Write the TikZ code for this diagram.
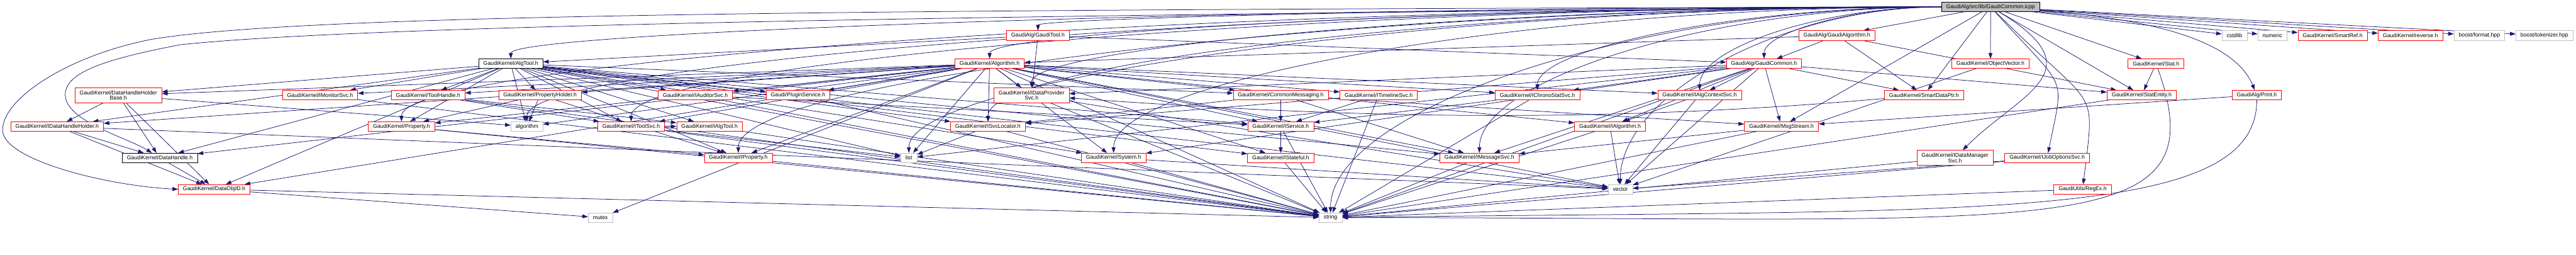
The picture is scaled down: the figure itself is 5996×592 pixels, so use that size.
\documentclass[tikz,border=0pt]{standalone}
\usepackage{fontspec}
\usepackage{tikz}
\usetikzlibrary{arrows.meta,calc}
\newfontfamily\dotfont{Liberation Sans}
\definecolor{DotEdge}{HTML}{191970}
\definecolor{DotRed}{HTML}{FF0000}
\definecolor{DotGray}{HTML}{BFBFBF}
\pgfdeclarelayer{edges}
\pgfsetlayers{edges,main}

\begin{document}
\begin{tikzpicture}[x=1pt, y=1pt,
  font=\dotfont\fontsize{12.8}{12.7}\selectfont,
  box/.style={draw, fill=white, line width=1pt, inner xsep=11pt, inner ysep=0pt, minimum height=22pt, align=center},
  redbox/.style={box, draw=DotRed},
  blackbox/.style={box, draw=black},
  sysbox/.style={box, draw=DotGray},
  rootbox/.style={box, draw=black, fill=DotGray},
  tall/.style={minimum height=35pt},
  dep/.style={draw=DotEdge, line width=1.1pt, -{Triangle[length=13pt,width=9pt]}}]
  \useasboundingbox (0,0) rectangle (5996,592);
  % the file itself
  \node[rootbox] (root) at (4633.5,576) {GaudiAlg/src/lib/GaudiCommon.icpp};
  % first row
  \node[redbox] (gtool) at (2416,509.5) {GaudiAlg/GaudiTool.h};
  \node[redbox] (galg) at (4275.5,509.5) {GaudiAlg/GaudiAlgorithm.h};
  \node[sysbox] (scstdlib) at (5201,509.5) {cstdlib};
  \node[sysbox] (snumeric) at (5289,509.5) {numeric};
  \node[redbox] (smartref) at (5429.5,509.5) {GaudiKernel/SmartRef.h};
  \node[redbox] (reverse) at (5610.5,509.5) {GaudiKernel/reverse.h};
  \node[sysbox] (bformat) at (5771,509.5) {boost/format.hpp};
  \node[sysbox] (btoken) at (5922.5,509.5) {boost/tokenizer.hpp};
  % second row
  \node[blackbox] (algtool) at (1189,444) {GaudiKernel/AlgTool.h};
  \node[redbox] (algorithmh) at (2303.5,444) {GaudiKernel/Algorithm.h};
  \node[redbox] (gcommon) at (4106,444) {GaudiAlg/GaudiCommon.h};
  \node[redbox] (objvec) at (4633,444) {GaudiKernel/ObjectVector.h};
  \node[redbox] (stat) at (5018.5,444) {GaudiKernel/Stat.h};
  % third row
  \node[redbox, tall] (dhhb) at (275.5,370.5) {GaudiKernel/DataHandleHolder\\Base.h};
  \node[redbox] (imonitor) at (745,371) {GaudiKernel/IMonitorSvc.h};
  \node[redbox] (toolhandle) at (996.5,371) {GaudiKernel/ToolHandle.h};
  \node[redbox] (propholder) at (1257,371) {GaudiKernel/PropertyHolder.h};
  \node[redbox] (iauditor) at (1618.5,371) {GaudiKernel/IAuditorSvc.h};
  \node[redbox] (plugin) at (1857.5,371) {Gaudi/PluginService.h};
  \node[redbox, tall] (idataprov) at (2401,370.5) {GaudiKernel/IDataProvider\\Svc.h};
  \node[redbox] (commsg) at (2981,371) {GaudiKernel/CommonMessaging.h};
  \node[redbox] (itimeline) at (3209,371) {GaudiKernel/ITimelineSvc.h};
  \node[redbox] (ichrono) at (3578.5,371) {GaudiKernel/IChronoStatSvc.h};
  \node[redbox] (ialgctx) at (3956,371) {GaudiKernel/IAlgContextSvc.h};
  \node[redbox] (smartptr) at (4478.5,371) {GaudiKernel/SmartDataPtr.h};
  \node[redbox] (statentity) at (4985,371) {GaudiKernel/StatEntity.h};
  \node[redbox] (print) at (5253,371) {GaudiAlg/Print.h};
  % fourth row
  \node[redbox] (idhh) at (133,298) {GaudiKernel/IDataHandleHolder.h};
  \node[redbox] (property) at (934.5,298) {GaudiKernel/Property.h};
  \node[sysbox] (salgorithm) at (1226.5,298) {algorithm};
  \node[redbox] (itoolsvc) at (1469,298) {GaudiKernel/IToolSvc.h};
  \node[redbox] (ialgtool) at (1651.5,298) {GaudiKernel/IAlgTool.h};
  \node[redbox] (isvcloc) at (2299.5,298) {GaudiKernel/ISvcLocator.h};
  \node[redbox] (iservice) at (2981,298) {GaudiKernel/IService.h};
  \node[redbox] (ialgorithm) at (3747.5,298) {GaudiKernel/IAlgorithm.h};
  \node[redbox] (msgstream) at (4146.5,298) {GaudiKernel/MsgStream.h};
  % fifth row
  \node[blackbox] (datahandle) at (372,225) {GaudiKernel/DataHandle.h};
  \node[redbox] (iproperty) at (1718.5,225) {GaudiKernel/IProperty.h};
  \node[sysbox] (slist) at (2115.5,225) {list};
  \node[redbox] (system) at (2592,225) {GaudiKernel/System.h};
  \node[redbox] (istateful) at (2981,225) {GaudiKernel/IStateful.h};
  \node[redbox] (imsgsvc) at (3443.5,225) {GaudiKernel/IMessageSvc.h};
  \node[redbox, tall] (idatamgr) at (4550.5,225) {GaudiKernel/IDataManager\\Svc.h};
  \node[redbox] (ijobopt) at (4765,225) {GaudiKernel/IJobOptionsSvc.h};
  % sixth and last rows
  \node[redbox] (dataobjid) at (498.5,152) {GaudiKernel/DataObjID.h};
  \node[sysbox] (svector) at (3771.5,152) {vector};
  \node[redbox] (regex) at (4847.5,152) {GaudiUtils/RegEx.h};
  \node[sysbox] (smutex) at (1397.5,86) {mutex};
  \node[sysbox] (sstring) at (3097,86) {string};

  \begin{pgfonlayer}{edges}
  % includes of the file, long ones run left along the top
  \foreach \t in {gtool,algtool,algorithmh,property,salgorithm,itoolsvc,iproperty,idataprov,isvcloc,system,slist,ialgctx,ichrono,imsgsvc,sstring,svector,gcommon}
    \draw[dep] let \p1=(root.west), \p2=(\t.north) in
      (root) .. controls (0.5*\x1+0.5*\x2,\y1) and (\x2,0.5*\y1+0.5*\y2) .. (\t);
  \foreach \t in {galg,objvec,smartptr,stat,statentity,msgstream,scstdlib,snumeric,smartref,reverse,bformat,btoken}
    \draw[dep] (root) -- (\t);
  \draw[dep] (root) .. controls +(250,-150) and +(150,150) .. (idatamgr);
  \draw[dep] (root) .. controls +(180,-200) and +(40,200) .. (ijobopt);
  \draw[dep] (root) .. controls +(250,-250) and +(30,250) .. (regex);
  \draw[dep] (root) .. controls +(400,-30) and +(-50,120) .. (print);
  % the two loops round the left edge
  \draw[dep] (root) .. controls (2000,570) and (700,560) .. (350,500)
    .. controls (150,460) and (6,360) .. (6,290)
    .. controls (6,220) and (250,160) .. (dataobjid.west);
  \draw[dep] (root) .. controls (2000,556) and (800,528) .. (420,488)
    .. controls (230,452) and (150,420) .. (152,370)
    .. controls (154,310) and (300,270) .. (datahandle);
  % GaudiAlg headers
  \foreach \t in {algtool,gcommon,idataprov}
    \draw[dep] (gtool) -- (\t);
  \foreach \t in {gcommon,algorithmh,smartptr,statentity}
    \draw[dep] (galg) -- (\t);
  \foreach \t in {ialgctx,ichrono,imsgsvc,isvcloc,msgstream,smartptr,statentity,system,ialgorithm,sstring,svector,slist,idataprov}
    \draw[dep] (gcommon) -- (\t);
  % AlgTool.h and Algorithm.h
  \foreach \t in {toolhandle,propholder,idhh,dhhb,imonitor,property,dataobjid,ialgtool,iauditor,plugin,commsg,iservice,istateful,itoolsvc,isvcloc,imsgsvc,iproperty,system,slist,svector,sstring,salgorithm,datahandle}
    \draw[dep] (algtool) -- (\t);
  \foreach \t in {ialgorithm,imsgsvc,iproperty,iservice,istateful,isvcloc,propholder,system,toolhandle,plugin,commsg,dataobjid,dhhb,idhh,ialgctx,iauditor,ichrono,idataprov,imonitor,itimeline,itoolsvc,property,sstring,svector,smutex,slist,salgorithm,datahandle}
    \draw[dep] (algorithmh) -- (\t);
  % data handles
  \foreach \t in {idhh,datahandle,dataobjid,salgorithm}
    \draw[dep] (dhhb) -- (\t);
  \foreach \t in {datahandle,dataobjid,svector}
    \draw[dep] (idhh) -- (\t);
  \draw[dep] (datahandle) -- (dataobjid);
  \foreach \t in {sstring,smutex}
    \draw[dep] (dataobjid) -- (\t);
  % interfaces
  \draw[dep] (imonitor) -- (sstring);
  \foreach \t in {iproperty,sstring}
    \draw[dep] (property) -- (\t);
  \foreach \t in {ialgtool,itoolsvc,sstring}
    \draw[dep] (toolhandle) -- (\t);
  \foreach \t in {salgorithm,property,iproperty}
    \draw[dep] (propholder) -- (\t);
  \foreach \t in {ialgtool,sstring,slist}
    \draw[dep] (itoolsvc) -- (\t);
  \draw[dep] (ialgtool) -- (sstring);
  \foreach \t in {iservice,sstring}
    \draw[dep] (iauditor) -- (\t);
  \draw[dep] (plugin) -- (sstring);
  \foreach \t in {sstring,svector}
    \draw[dep] (idataprov) -- (\t);
  \foreach \t in {slist,sstring}
    \draw[dep] (isvcloc) -- (\t);
  \foreach \t in {iservice,imsgsvc,isvcloc,msgstream}
    \draw[dep] (commsg) -- (\t);
  \foreach \t in {iservice,sstring}
    \draw[dep] (itimeline) -- (\t);
  \foreach \t in {iservice,sstring}
    \draw[dep] (ichrono) -- (\t);
  \foreach \t in {ialgorithm,svector}
    \draw[dep] (ialgctx) -- (\t);
  \draw[dep] (smartptr) .. controls +(-800,-70) and +(700,-50) .. (idataprov);
  \draw[dep] (stat) -- (statentity);
  \draw[dep] (stat) .. controls +(150,-420) and +(1700,0) .. (sstring);
  \draw[dep] (statentity) -- (sstring);
  \draw[dep] (print) -- (msgstream);
  \draw[dep] (print) .. controls +(0,-300) and +(1500,20) .. (sstring);
  \draw[dep] (objvec) -- (svector);
  \foreach \t in {imsgsvc,sstring}
    \draw[dep] (msgstream) -- (\t);
  \foreach \t in {istateful,sstring}
    \draw[dep] (iservice) -- (\t);
  \draw[dep] (istateful) -- (sstring);
  \draw[dep] (imsgsvc) -- (sstring);
  \foreach \t in {sstring,svector}
    \draw[dep] (ialgorithm) -- (\t);
  \draw[dep] (idatamgr) -- (sstring);
  \foreach \t in {sstring,svector}
    \draw[dep] (ijobopt) -- (\t);
  \draw[dep] (regex) -- (sstring);
  \draw[dep] (iproperty) -- (sstring);
  \foreach \t in {sstring,svector}
    \draw[dep] (system) -- (\t);
  \end{pgfonlayer}
\end{tikzpicture}
\end{document}
